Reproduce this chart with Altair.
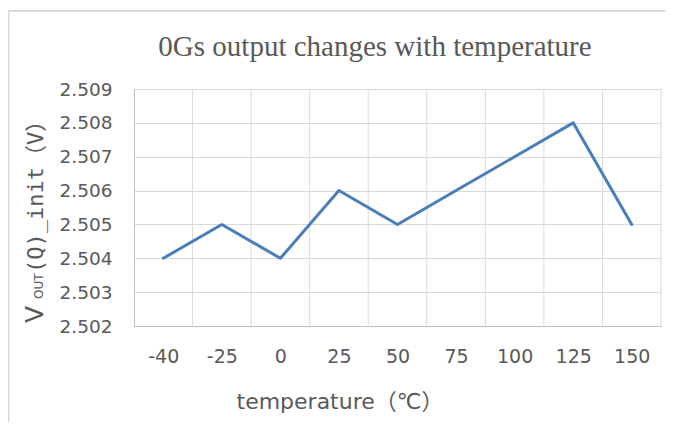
import altair as alt
import pandas as pd

# ---- data ----
temps = ["-40", "-25", "0", "25", "50", "75", "100", "125", "150"]
values = [2.504, 2.505, 2.504, 2.506, 2.505, 2.506, 2.507, 2.508, 2.505]
y_ticks = [2.502, 2.503, 2.504, 2.505, 2.506, 2.507, 2.508, 2.509]
title_text = "0Gs output changes with temperature"
x_title = "temperature（℃）"
y_title_main = "V"
y_title_sub = "OUT"
y_title_rest = "(Q)_init（V）"

# ---- layout ----
W, H = 527, 237
PAD_L, PAD_T = 126, 81
TOTAL_W, TOTAL_H = 657, 414
GRAY_TXT = "#595959"
GRID = "#d9d9d9"
AXIS = "#bfbfbf"
LINE = "#4a7ebb"

df = pd.DataFrame({"idx": list(range(len(temps))), "temp": temps, "v": values})
bounds = pd.DataFrame({"b": [i - 0.5 for i in range(1, len(temps) + 1)]})
one = pd.DataFrame({"d": [0]})

xscale = alt.Scale(domain=[-0.5, len(temps) - 0.5], nice=False, zero=False)
yscale = alt.Scale(domain=[y_ticks[0], y_ticks[-1]], nice=False, zero=False)
label_expr = "[" + ",".join("'%s'" % t for t in temps) + "][datum.value]"

x_axis = alt.Axis(
    values=list(range(len(temps))),
    labelExpr=label_expr,
    title=None,
    grid=False,
    ticks=False,
    tickSize=0,
    labelPadding=21,
    labelOverlap=False,
    labelFlush=False,
    domainColor=AXIS,
    domainWidth=1,
    labelFont="DejaVu Sans",
    labelFontSize=19,
    labelColor=GRAY_TXT,
)

vgrid = alt.Chart(bounds).mark_rule(color=GRID, strokeWidth=1).encode(
    x=alt.X("b:Q", scale=xscale, axis=x_axis),
    y=alt.value(0),
    y2=alt.value(H),
)

line = alt.Chart(df).mark_line(
    color=LINE, strokeWidth=3, strokeJoin="round", strokeCap="round"
).encode(
    x=alt.X("idx:Q", scale=xscale, axis=x_axis),
    y=alt.Y(
        "v:Q",
        scale=yscale,
        axis=alt.Axis(
            values=y_ticks,
            format=".3f",
            title=None,
            grid=True,
            gridColor=GRID,
            gridWidth=1,
            ticks=False,
            tickSize=0,
            labelPadding=22,
            domainColor=AXIS,
            domainWidth=1,
            labelFont="DejaVu Sans",
            labelFontSize=18.5,
            labelColor=GRAY_TXT,
        ),
    ),
)

# outer frame (left and top edges visible in the reference)
frame_top = alt.Chart(one).mark_rule(color=GRID, strokeWidth=2).encode(
    x=alt.value(-PAD_L), x2=alt.value(TOTAL_W - PAD_L), y=alt.value(-78)
)
frame_left = alt.Chart(one).mark_rule(color=GRID, strokeWidth=2).encode(
    x=alt.value(-PAD_L + 0.5), y=alt.value(-78), y2=alt.value(TOTAL_H - PAD_T)
)

title = alt.Chart(pd.DataFrame({"t": [title_text]})).mark_text(
    font="Liberation Serif", fontSize=29, color=GRAY_TXT, align="center", baseline="alphabetic"
).encode(text="t:N", x=alt.value(241), y=alt.value(-33))

xtitle = alt.Chart(pd.DataFrame({"t": [x_title]})).mark_text(
    font="DejaVu Sans, Noto Sans CJK SC", fontSize=22, color=GRAY_TXT, align="center", baseline="alphabetic"
).encode(text="t:N", x=alt.value(206), y=alt.value(320))

yt1 = alt.Chart(pd.DataFrame({"t": [y_title_main]})).mark_text(
    font="DejaVu Sans", fontSize=25, color=GRAY_TXT, align="left", baseline="alphabetic", angle=270
).encode(text="t:N", x=alt.value(-91), y=alt.value(234))

yt2 = alt.Chart(pd.DataFrame({"t": [y_title_sub]})).mark_text(
    font="DejaVu Sans", fontSize=12, color=GRAY_TXT, align="left", baseline="alphabetic", angle=270
).encode(text="t:N", x=alt.value(-91), y=alt.value(210))

yt3 = alt.Chart(pd.DataFrame({"t": [y_title_rest]})).mark_text(
    font="DejaVu Sans Mono, Noto Sans CJK SC", fontSize=22, color=GRAY_TXT, align="left",
    baseline="alphabetic", angle=270
).encode(text="t:N", x=alt.value(-91), y=alt.value(184))

chart = alt.layer(
    vgrid, line, frame_top, frame_left, title, xtitle, yt1, yt2, yt3
).properties(
    width=W,
    height=H,
    autosize=alt.AutoSizeParams(type="none"),
    padding={"left": PAD_L, "top": PAD_T, "right": TOTAL_W - PAD_L - W, "bottom": TOTAL_H - PAD_T - H},
    background="white",
).configure_view(stroke=None)

chart.save("out.html", embed_options={"renderer": "svg", "actions": False})
